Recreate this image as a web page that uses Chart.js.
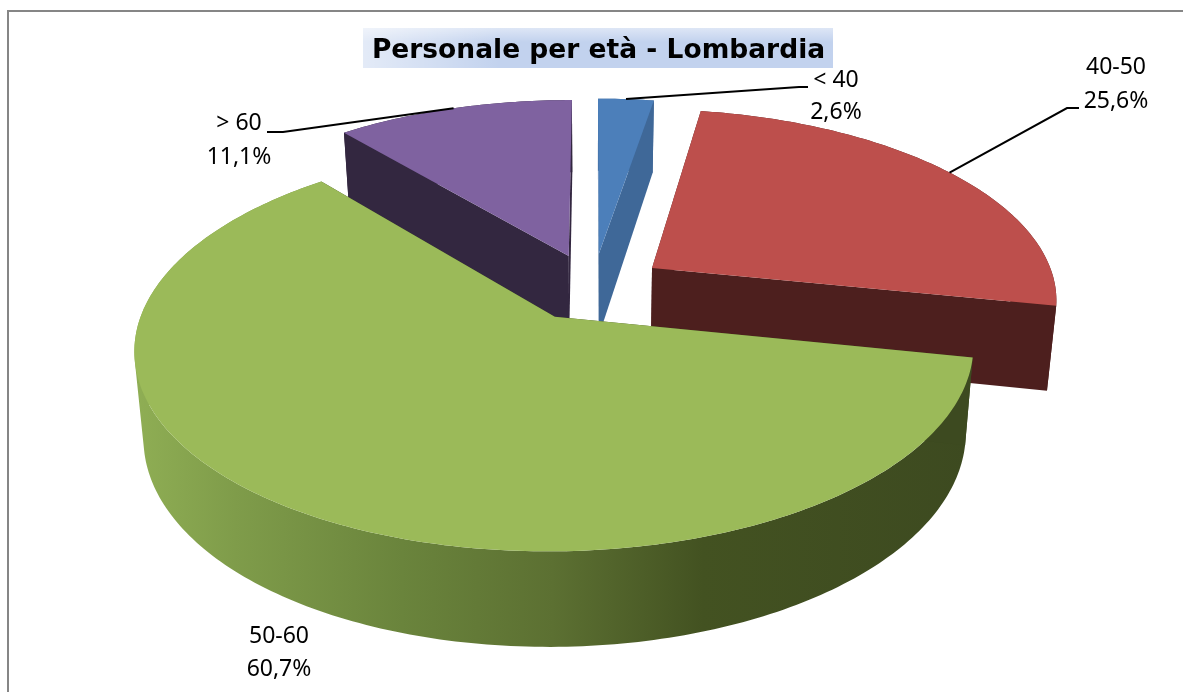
<!DOCTYPE html>
<html>
<head>
<meta charset="utf-8">
<script src="https://cdn.jsdelivr.net/npm/chart.js@4/dist/chart.umd.min.js"></script>
<style>html,body{margin:0;padding:0;background:#fff}canvas{display:block}</style>
</head>
<body>
<canvas id="c" width="1183" height="692"></canvas>
<script>
const categories = ['< 40', '40-50', '50-60', '> 60'];
const shares = [2.6, 25.6, 60.7, 11.1];
const topColors = ['#4c7fba', '#bd4f4c', '#9bba59', '#7f62a0'];
const wallColors = ['#3f6898', '#4d1f1e', '#3d4a20', '#332740'];
const chartTitle = 'Personale per età - Lombardia';
const FONT = '"Noto Sans", sans-serif';

// perspective view of the pie plane
const VIEW = {cx: 593, cy: 287, a: 404.5, b: 188.5, k: 0.153, shrink: 0.98, depth: 84, tilt: 10};
function project(u, v) {
  const w = 1 + VIEW.k * v;
  return {x: VIEW.cx + VIEW.a * u / w, y: VIEW.cy - VIEW.b * v / w, v};
}
function lower(p) {
  return {x: VIEW.cx + (p.x - VIEW.cx) * VIEW.shrink, y: p.y + VIEW.depth - VIEW.tilt * p.v};
}

// slice geometry read from the library's arc elements
function sliceGeom(el) {
  const props = el.getProps(['startAngle', 'endAngle', 'outerRadius'], true);
  const mid = (props.startAngle + props.endAngle) / 2;
  const e = el.options.offset / props.outerRadius;
  const ou = Math.cos(mid) * e, ov = -Math.sin(mid) * e;
  const rim = [];
  const n = Math.max(8, Math.ceil((props.endAngle - props.startAngle) * 60));
  for (let i = 0; i <= n; i++) {
    const t = props.startAngle + (props.endAngle - props.startAngle) * i / n;
    rim.push(project(ou + Math.cos(t), ov - Math.sin(t)));
  }
  return {apex: project(ou, ov), rim, midPt: project(ou + Math.cos(mid), ov - Math.sin(mid))};
}
function poly(ctx, pts, fill) {
  ctx.beginPath();
  pts.forEach((p, i) => i ? ctx.lineTo(p.x, p.y) : ctx.moveTo(p.x, p.y));
  ctx.closePath();
  ctx.fillStyle = fill;
  ctx.fill();
}
// side band swept between the top rim and the bottom rim, one path of same-wound quads
function band(ctx, rim, fill) {
  ctx.beginPath();
  for (let i = 0; i + 1 < rim.length; i++) {
    const q = [rim[i], rim[i + 1], lower(rim[i + 1]), lower(rim[i])];
    let area = 0;
    q.forEach((p, j) => { const r = q[(j + 1) % 4]; area += p.x * r.y - r.x * p.y; });
    if (area < 0) q.reverse();
    q.forEach((p, j) => j ? ctx.lineTo(p.x, p.y) : ctx.moveTo(p.x, p.y));
    ctx.closePath();
  }
  ctx.fillStyle = fill;
  ctx.fill();
}

const pie3d = {
  id: 'pie3d',
  beforeDraw(chart) {
    const ctx = chart.ctx;
    ctx.save();
    ctx.fillStyle = '#c2d2ee';
    ctx.fillRect(363, 28, 470, 40);
    let g = ctx.createLinearGradient(363, 0, 500, 0);
    g.addColorStop(0, 'rgba(255,255,255,0.55)');
    g.addColorStop(1, 'rgba(255,255,255,0)');
    ctx.fillStyle = g;
    ctx.fillRect(363, 28, 470, 40);
    g = ctx.createLinearGradient(0, 28, 0, 42);
    g.addColorStop(0, 'rgba(255,255,255,0.45)');
    g.addColorStop(1, 'rgba(255,255,255,0)');
    ctx.fillStyle = g;
    ctx.fillRect(363, 28, 470, 14);
    ctx.strokeStyle = '#868686';
    ctx.lineWidth = 2;
    ctx.beginPath();
    ctx.moveTo(8, 692);
    ctx.lineTo(8, 11);
    ctx.lineTo(1183, 11);
    ctx.stroke();
    ctx.restore();
  },
  beforeDatasetsDraw(chart) {
    const ctx = chart.ctx;
    const arcs = chart.getDatasetMeta(0).data;
    const geoms = arcs.map(sliceGeom);
    ctx.save();
    // back slices first, the large front slice last
    [3, 0, 1, 2].forEach(i => {
      const s = geoms[i];
      let rimFill = wallColors[i];
      if (i === 2) {
        rimFill = ctx.createLinearGradient(135, 0, 970, 0);
        rimFill.addColorStop(0, '#8fae54');
        rimFill.addColorStop(0.12, '#7f9c4a');
        rimFill.addColorStop(0.32, '#6a843c');
        rimFill.addColorStop(0.5, '#5c7032');
        rimFill.addColorStop(0.68, '#435221');
        rimFill.addColorStop(1, '#3d4a20');
      }
      band(ctx, s.rim, rimFill);
      const first = s.rim[0], last = s.rim[s.rim.length - 1];
      poly(ctx, [s.apex, first, lower(first), lower(s.apex)], wallColors[i]);
      poly(ctx, [s.apex, last, lower(last), lower(s.apex)], wallColors[i]);
      poly(ctx, [s.apex].concat(s.rim), topColors[i]);
    });
    ctx.restore();
    return false;
  },
  afterDraw(chart) {
    const ctx = chart.ctx;
    const geoms = chart.getDatasetMeta(0).data.map(sliceGeom);
    const labels = chart.data.labels;
    const values = chart.data.datasets[0].data;
    const leaders = [[[799, 87], [808, 87]], [[1067, 108], [1079, 108]], null, [[283, 132], [267, 132]]];
    const spots = [[836, 80, 112], [1116, 67, 101], [279, 636, 669], [239, 123, 157]];
    ctx.save();
    ctx.strokeStyle = '#000';
    ctx.lineWidth = 2;
    leaders.forEach((l, i) => {
      if (!l) return;
      ctx.beginPath();
      ctx.moveTo(geoms[i].midPt.x, geoms[i].midPt.y);
      l.forEach(p => ctx.lineTo(p[0], p[1]));
      ctx.stroke();
    });
    ctx.fillStyle = '#000';
    ctx.font = '23px ' + FONT;
    ctx.textAlign = 'center';
    ctx.textBaseline = 'middle';
    spots.forEach((s, i) => {
      ctx.fillText(labels[i], s[0], s[1]);
      ctx.fillText(values[i].toFixed(1).replace('.', ',') + '%', s[0], s[2]);
    });
    ctx.restore();
  }
};

new Chart(document.getElementById('c'), {
  type: 'pie',
  data: {
    labels: categories,
    datasets: [{data: shares, backgroundColor: topColors, borderWidth: 0, offset: 36}]
  },
  plugins: [pie3d],
  options: {
    responsive: false,
    animation: false,
    events: [],
    radius: 200,
    layout: {padding: {left: 14}},
    plugins: {
      legend: {display: false},
      tooltip: {enabled: false},
      title: {
        display: true,
        fullSize: false,
        text: chartTitle,
        color: '#000',
        font: {family: '"DejaVu Sans", sans-serif', size: 26.5, weight: 'bold'},
        padding: {top: 35, bottom: 4}
      }
    }
  }
});
</script>
</body>
</html>
